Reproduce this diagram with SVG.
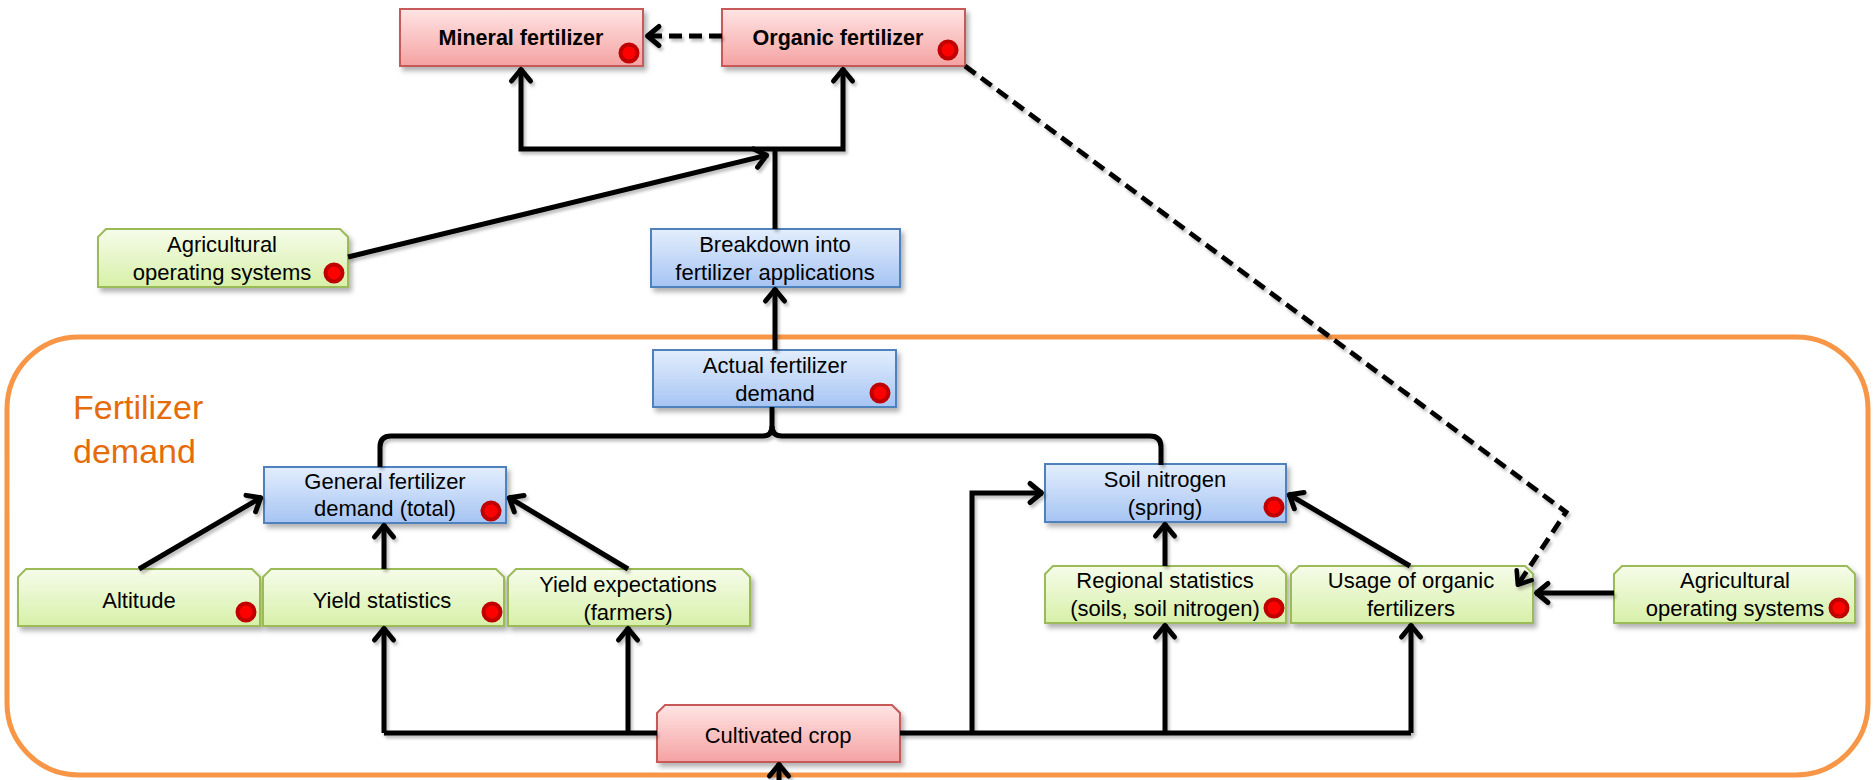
<svg xmlns="http://www.w3.org/2000/svg" width="1876" height="780" viewBox="0 0 1876 780">
  <defs>
    <linearGradient id="gPink" x1="0" y1="0" x2="0" y2="1">
      <stop offset="0" stop-color="#FFE4E4"/>
      <stop offset="1" stop-color="#F5A2A2"/>
    </linearGradient>
    <linearGradient id="gBlue" x1="0" y1="0" x2="0" y2="1">
      <stop offset="0" stop-color="#E3EEFD"/>
      <stop offset="1" stop-color="#A6C4F3"/>
    </linearGradient>
    <linearGradient id="gGreen" x1="0" y1="0" x2="0" y2="1">
      <stop offset="0" stop-color="#F6FCEA"/>
      <stop offset="1" stop-color="#D7F0A8"/>
    </linearGradient>
    <filter id="boxShadow" x="-10%" y="-20%" width="130%" height="160%">
      <feDropShadow dx="3" dy="4" stdDeviation="2.5" flood-color="#000" flood-opacity="0.3"/>
    </filter>
    <filter id="lineShadow" x="-5%" y="-5%" width="110%" height="110%">
      <feDropShadow dx="2" dy="3" stdDeviation="1.5" flood-color="#000" flood-opacity="0.25"/>
    </filter>
    <marker id="arr" markerUnits="userSpaceOnUse" viewBox="-20 -14 24 28" refX="0" refY="0" markerWidth="24" markerHeight="28" orient="auto" overflow="visible">
      <path d="M-13,-9.5 L-1.5,0 L-13,9.5" fill="none" stroke="#000" stroke-width="5" stroke-dasharray="none" stroke-linecap="round" stroke-linejoin="round"/>
    </marker>
    <marker id="arrThin" markerUnits="userSpaceOnUse" viewBox="-20 -14 24 28" refX="0" refY="0" markerWidth="24" markerHeight="28" orient="auto" overflow="visible">
      <path d="M-13,-9 L-1.5,0 L-13,9" fill="none" stroke="#000" stroke-width="4.5" stroke-dasharray="none" stroke-linecap="round" stroke-linejoin="round"/>
    </marker>
  </defs>
  <style>
    .lbl { font-family: "Liberation Sans", Arial, sans-serif; font-size: 22px; fill: #000; text-anchor: middle; }
    .bold { font-weight: bold; font-size: 21.5px; }
    .title { font-family: "Liberation Sans", Arial, sans-serif; font-size: 34px; fill: #E46C0A; }
    .pink { fill: url(#gPink); stroke: #C65A58; stroke-width: 2; filter: url(#boxShadow); }
    .blue { fill: url(#gBlue); stroke: #4F81BD; stroke-width: 2; filter: url(#boxShadow); }
    .green { fill: url(#gGreen); stroke: #9BBB59; stroke-width: 2; filter: url(#boxShadow); }
    .dot { fill: #FF0000; stroke: #C00000; stroke-width: 4; }
    .conn { fill: none; stroke: #000; stroke-width: 5; stroke-linejoin: miter; }
    .dash { stroke-dasharray: 13 7; }
    .thin { stroke-width: 4.8; }
  </style>

  <rect x="0" y="0" width="1876" height="780" fill="#FFFFFF"/>

  <!-- container for the demand sub-model -->
  <g id="fertilizer-demand-frame">
    <rect x="7" y="337" width="1861" height="438" rx="72" ry="72" fill="none" stroke="#F79646" stroke-width="5"/>
    <text class="title" x="73" y="419">Fertilizer</text>
    <text class="title" x="73" y="463">demand</text>
  </g>

  <!-- nodes -->
  <g id="mineral-fertilizer">
    <rect class="pink" x="400" y="9" width="243" height="57"/>
    <text class="lbl bold" x="521" y="45">Mineral fertilizer</text>
    <circle class="dot" cx="629" cy="53" r="8.5"/>
  </g>
  <g id="organic-fertilizer">
    <rect class="pink" x="722" y="9" width="243" height="57"/>
    <text class="lbl bold" x="838" y="45">Organic fertilizer</text>
    <circle class="dot" cx="948" cy="50" r="8.5"/>
  </g>
  <g id="agri-systems-top">
    <path class="green" d="M98,237 L106,229 L340,229 L348,237 L348,287 L98,287 Z"/>
    <text class="lbl" x="222" y="252">Agricultural</text>
    <text class="lbl" x="222" y="280">operating systems</text>
    <circle class="dot" cx="334" cy="273" r="8.5"/>
  </g>
  <g id="breakdown">
    <rect class="blue" x="651" y="229" width="249" height="58"/>
    <text class="lbl" x="775" y="252">Breakdown into</text>
    <text class="lbl" x="775" y="280">fertilizer applications</text>
  </g>
  <g id="actual-demand">
    <rect class="blue" x="653" y="350" width="243" height="57"/>
    <text class="lbl" x="775" y="373">Actual fertilizer</text>
    <text class="lbl" x="775" y="401">demand</text>
    <circle class="dot" cx="880" cy="393" r="8.5"/>
  </g>
  <g id="general-demand">
    <rect class="blue" x="264" y="467" width="242" height="56"/>
    <text class="lbl" x="385" y="489">General fertilizer</text>
    <text class="lbl" x="385" y="516">demand (total)</text>
    <circle class="dot" cx="491" cy="511" r="8.5"/>
  </g>
  <g id="soil-nitrogen">
    <rect class="blue" x="1045" y="464" width="241" height="58"/>
    <text class="lbl" x="1165" y="487">Soil nitrogen</text>
    <text class="lbl" x="1165" y="515">(spring)</text>
    <circle class="dot" cx="1274" cy="507" r="8.5"/>
  </g>
  <g id="altitude">
    <path class="green" d="M18,577 L26,569 L252,569 L260,577 L260,626 L18,626 Z"/>
    <text class="lbl" x="139" y="608">Altitude</text>
    <circle class="dot" cx="246" cy="612" r="8.5"/>
  </g>
  <g id="yield-statistics">
    <path class="green" d="M263,577 L271,569 L496,569 L504,577 L504,626 L263,626 Z"/>
    <text class="lbl" x="382" y="608">Yield statistics</text>
    <circle class="dot" cx="492" cy="612" r="8.5"/>
  </g>
  <g id="yield-expectations">
    <path class="green" d="M508,577 L516,569 L742,569 L750,577 L750,626 L508,626 Z"/>
    <text class="lbl" x="628" y="592">Yield expectations</text>
    <text class="lbl" x="628" y="620">(farmers)</text>
  </g>
  <g id="regional-statistics">
    <path class="green" d="M1045,574 L1053,566 L1278,566 L1286,574 L1286,623 L1045,623 Z"/>
    <text class="lbl" x="1165" y="588">Regional statistics</text>
    <text class="lbl" x="1165" y="616">(soils, soil nitrogen)</text>
    <circle class="dot" cx="1274" cy="608" r="8.5"/>
  </g>
  <g id="organic-usage">
    <path class="green" d="M1291,574 L1299,566 L1525,566 L1533,574 L1533,623 L1291,623 Z"/>
    <text class="lbl" x="1411" y="588">Usage of organic</text>
    <text class="lbl" x="1411" y="616">fertilizers</text>
  </g>
  <g id="agri-systems-right">
    <path class="green" d="M1614,574 L1622,566 L1847,566 L1855,574 L1855,623 L1614,623 Z"/>
    <text class="lbl" x="1735" y="588">Agricultural</text>
    <text class="lbl" x="1735" y="616">operating systems</text>
    <circle class="dot" cx="1839" cy="608" r="8.5"/>
  </g>
  <g id="cultivated-crop">
    <path class="pink" d="M657,713 L665,705 L892,705 L900,713 L900,762 L657,762 Z"/>
    <text class="lbl" x="778" y="743">Cultivated crop</text>
  </g>

  <!-- connectors (drawn above the boxes) -->
  <g id="connectors" filter="url(#lineShadow)">
    <!-- organic -> mineral (dashed) -->
    <path class="conn dash" d="M722,36 H646" marker-end="url(#arr)"/>
    <!-- breakdown -> mineral / organic -->
    <path class="conn" d="M775,229 V149"/>
    <path class="conn" d="M775,149 H521 V68" marker-end="url(#arr)"/>
    <path class="conn" d="M775,149 H843 V68" marker-end="url(#arr)"/>
    <!-- agricultural operating systems -> split point -->
    <path class="conn" d="M348,257 L768,155" marker-end="url(#arr)"/>
    <!-- actual demand -> breakdown -->
    <path class="conn" d="M775,350 V288" marker-end="url(#arr)"/>
    <!-- brace: general + soil nitrogen -> actual demand -->
    <path class="conn" d="M380,467 V447 Q380,436 391,436 H763 Q772,436 772,426 V407"/>
    <path class="conn" d="M772,426 Q772,436 782,436 H1150 Q1161,436 1161,447 V465"/>
    <!-- inputs of general demand -->
    <path class="conn" d="M139,569 L262,497" marker-end="url(#arr)"/>
    <path class="conn" d="M384,569 V524" marker-end="url(#arr)"/>
    <path class="conn" d="M628,569 L508,497" marker-end="url(#arr)"/>
    <!-- cultivated crop bus -->
    <path class="conn" d="M384,733 H657"/>
    <path class="conn" d="M900,733 H1411"/>
    <path class="conn" d="M384,733 V627" marker-end="url(#arr)"/>
    <path class="conn" d="M628,733 V627" marker-end="url(#arr)"/>
    <path class="conn" d="M972,733 V493 H1043" marker-end="url(#arr)"/>
    <path class="conn" d="M1165,733 V624" marker-end="url(#arr)"/>
    <path class="conn" d="M1411,733 V624" marker-end="url(#arr)"/>
    <path class="conn" d="M779,790 V763" marker-end="url(#arr)"/>
    <!-- inputs of soil nitrogen -->
    <path class="conn" d="M1165,566 V523" marker-end="url(#arr)"/>
    <path class="conn" d="M1410,566 L1288,494" marker-end="url(#arr)"/>
    <path class="conn" d="M1614,593 H1535" marker-end="url(#arr)"/>
    <!-- organic fertilizer -> usage of organic fertilizers (dashed) -->
    <path class="conn dash thin" d="M965,66 L1566,512 L1517,586" marker-end="url(#arrThin)"/>
  </g>
</svg>
